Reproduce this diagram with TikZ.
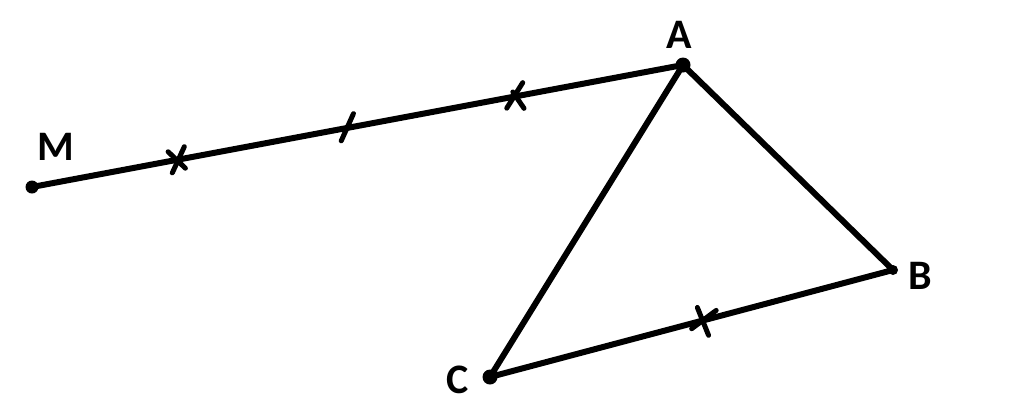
\documentclass[tikz,border=0pt]{standalone}
\usepackage{fontspec}
\setmainfont{Carlito}
\begin{document}
\begin{tikzpicture}[x=1pt,y=-1pt,
  seg/.style={line width=6pt, line cap=round, line join=round},
  tick/.style={line width=5pt, line cap=round},
  lbl/.style={font=\fontsize{42}{42}\selectfont\bfseries, inner sep=0pt},
  dotmark/.style={circle, fill=black, inner sep=0pt, minimum size=13pt}]
\useasboundingbox (0,0) rectangle (1024,418);
\coordinate (M) at (32,187);
\coordinate (A) at (683,65);
\coordinate (B) at (893,270);
\coordinate (C) at (490,377);
\draw[seg] (M) -- (A) -- (B) -- (C) -- (A);
\node[dotmark] (dM) at (M) {};
\node[dotmark, minimum size=15pt] (dA) at (A) {};
\node[dotmark, minimum size=10pt] (dB) at (B) {};
\node[dotmark, minimum size=15pt] (dC) at (C) {};
\node[lbl] (lM) at (56,147) {M};
\node[lbl] (lA) at (679,35) {A};
\node[lbl] (lB) at (920,276) {B};
\node[lbl] (lC) at (458,380) {C};
\path (M) -- (A) coordinate[pos=0.224] (t1) coordinate[pos=0.485] (t2) coordinate[pos=0.742] (t3);
\path (C) -- (B) coordinate[pos=0.529] (t4);
\begin{scope}[shift={(t1)}, rotate=-10.6]
\draw[tick] (-3,14) -- (4,-14) (-11,-6) -- (9,7);
\end{scope}
\begin{scope}[shift={(t2)}, rotate=-10.6]
\draw[tick] (-4,14) -- (3,-15);
\end{scope}
\begin{scope}[shift={(t3)}, rotate=-10.6]
\draw[tick] (-6,13) -- (5,-15) (-3,-4) -- (11,10);
\end{scope}
\begin{scope}[shift={(t4)}, rotate=-14.9]
\draw[tick] (-9,-11) -- (9,13) (-9,11) -- (10,-13);
\end{scope}
\end{tikzpicture}
\end{document}
